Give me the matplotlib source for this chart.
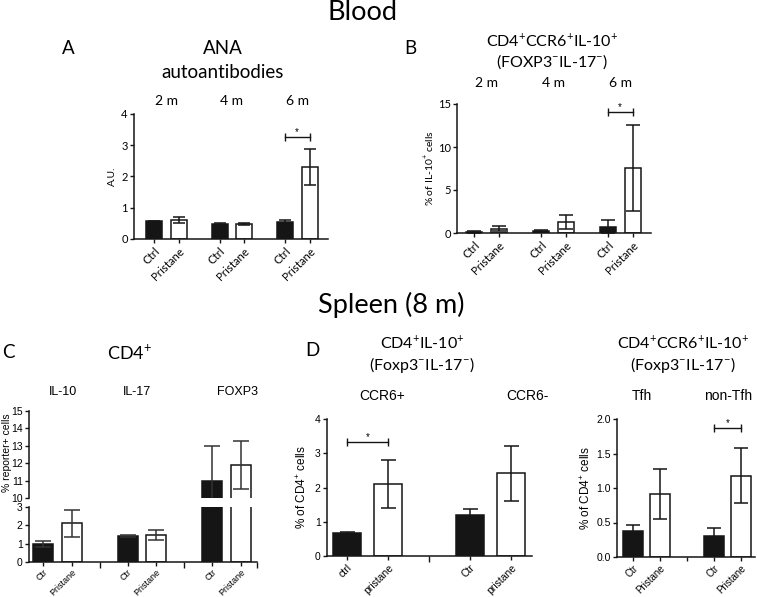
import matplotlib
matplotlib.use('Agg')
import matplotlib.pyplot as plt

W, H = 757, 597

# ---------------- data ----------------
# A: ANA autoantibodies (blood)
months = ['2 m', '4 m', '6 m']
tick_AB = ['Ctrl', 'Pristane']
ana_ctrl = [0.56, 0.48, 0.53]
ana_ctrl_err = [0.03, 0.04, 0.07]
ana_pri = [0.61, 0.48, 2.30]
ana_pri_err = [0.09, 0.04, 0.58]
sig_A = 3.26

# B: CD4+CCR6+IL-10+ (blood)
b_ctrl = [0.10, 0.25, 0.70]
b_ctrl_err = [0.10, 0.08, 0.85]
b_pri = [0.50, 1.28, 7.60]
b_pri_err = [0.27, 0.80, 5.00]
sig_B = 14.1

# C: CD4+ spleen
c_groups = ['IL-10', 'IL-17', 'FOXP3']
tick_C = ['Ctr', 'Pristane']
c_ctrl = [0.97, 1.40, 11.0]
c_ctrl_err = [0.15, 0.06, 2.0]
c_pri = [2.12, 1.48, 11.9]
c_pri_err = [0.74, 0.26, 1.4]

# D: CD4+IL-10+ spleen
d_groups = ['CCR6+', 'CCR6-']
tick_D = ['ctrl', 'pristane', 'Ctr', 'pristane']
d_ctrl = [0.67, 1.20]
d_ctrl_err = [0.03, 0.18]
d_pri = [2.09, 2.42]
d_pri_err = [0.70, 0.80]
sig_D = 3.32

# E: CD4+CCR6+IL-10+ spleen
e_groups = ['Tfh', 'non-Tfh']
tick_E = ['Ctr', 'Pristane', '', 'Ctr', 'Pristane']
e_ctrl = [0.37, 0.31]
e_ctrl_err = [0.10, 0.11]
e_pri = [0.91, 1.18]
e_pri_err = [0.36, 0.40]
sig_E = 1.87

# ---------------- styling ----------------
HEAD = ['Lato', 'DejaVu Sans']
ARIAL = ['Liberation Sans', 'DejaVu Sans']
plt.rcParams['font.family'] = ARIAL
plt.rcParams['mathtext.fontset'] = 'custom'
plt.rcParams['mathtext.rm'] = 'Lato'
BLACK = '#151515'

fig = plt.figure(figsize=(W / 100, H / 100), dpi=100)


def box(x0, yt, x1, yb):
    return [x0 / W, 1 - yb / H, (x1 - x0) / W, (yb - yt) / H]


def ftext(x, y, s, size, family=HEAD, **kw):
    kw.setdefault('ha', 'center')
    kw.setdefault('va', 'center')
    fig.text(x / W, 1 - y / H, s, fontsize=size, family=family, **kw)


def style(ax, lw=1.1):
    for s in ['top', 'right']:
        ax.spines[s].set_visible(False)
    for s in ['left', 'bottom']:
        ax.spines[s].set_linewidth(lw)
        ax.spines[s].set_color(BLACK)
    ax.tick_params(length=3, width=1, color=BLACK, pad=1.5)


def bars(ax, xs_c, xs_p, vc, ec, vp, ep, width, cap, ecol=BLACK):
    ax.bar(xs_c, vc, width=width, color=BLACK, edgecolor=BLACK, linewidth=1.1, zorder=2)
    ax.bar(xs_p, vp, width=width, color='white', edgecolor=BLACK, linewidth=1.1, zorder=2)
    ax.errorbar(xs_c, vc, yerr=ec, fmt='none', ecolor=ecol, elinewidth=1.1,
                capsize=cap, capthick=1.1, zorder=3)
    ax.errorbar(xs_p, vp, yerr=ep, fmt='none', ecolor=ecol, elinewidth=1.1,
                capsize=cap, capthick=1.1, zorder=3)


def sig(ax, x1, x2, y, ms=6):
    ax.plot([x1, x2], [y, y], color=BLACK, lw=1.0, marker='|', markersize=ms,
            mew=1.0, clip_on=False, zorder=4)
    ax.text((x1 + x2) / 2, y, '*', ha='center', va='bottom', fontsize=7,
            family=ARIAL, clip_on=False)


# ---------------- titles ----------------
ftext(362, 12, 'Blood', 19.5)
ftext(391, 305, 'Spleen (8 m)', 19.5)

# ---------------- Panel A ----------------
axA = fig.add_axes(box(134, 114, 328, 239))
style(axA)
offA, inA, gapA = 20, 24.5, 65.5
xA_c = [offA + gapA * i for i in range(3)]
xA_p = [x + inA for x in xA_c]
bars(axA, xA_c, xA_p, ana_ctrl, ana_ctrl_err, ana_pri, ana_pri_err, 16, 4.3)
axA.set_xlim(0, 194)
axA.set_ylim(0, 4)
axA.set_yticks([0, 1, 2, 3, 4])
axA.set_xticks(sorted(xA_c + xA_p))
axA.set_xticklabels(tick_AB * 3, rotation=45, ha='right', rotation_mode='anchor',
                    fontsize=8.3, family=HEAD)
for t in axA.get_yticklabels():
    t.set_fontsize(8); t.set_family(HEAD)
axA.set_ylabel('A.U.', fontsize=7.5, family=HEAD, labelpad=3)
sig(axA, xA_c[2], xA_p[2], sig_A)
ftext(68, 49, 'A', 13.5)
ftext(223, 49, 'ANA', 13.5)
ftext(223, 72, 'autoantibodies', 13.5)
for i, m in enumerate(months):
    ftext(134 + (xA_c[i] + xA_p[i]) / 2, 101, m, 10)

# ---------------- Panel B ----------------
axB = fig.add_axes(box(457, 104, 651, 233))
style(axB)
offB, inB, gapB = 17, 24.5, 67
xB_c = [offB + gapB * i for i in range(3)]
xB_p = [x + inB for x in xB_c]
bars(axB, xB_c, xB_p, b_ctrl, b_ctrl_err, b_pri, b_pri_err, 16, 5)
axB.set_xlim(0, 194)
axB.set_ylim(0, 15)
axB.set_yticks([0, 5, 10, 15])
axB.set_xticks(sorted(xB_c + xB_p))
axB.set_xticklabels(tick_AB * 3, rotation=45, ha='right', rotation_mode='anchor',
                    fontsize=8.3, family=HEAD)
for t in axB.get_yticklabels():
    t.set_fontsize(8); t.set_family(HEAD)
axB.set_ylabel('% of IL-10$^{+}$ cells', fontsize=7.5, family=HEAD, labelpad=1)
sig(axB, xB_c[2], xB_p[2], sig_B)
ftext(410, 48, 'B', 13.5)
ftext(552, 40, 'CD4$^{+}$CCR6$^{+}$IL-10$^{+}$', 11.5)
ftext(552, 62, '(FOXP3$^{-}$IL-17$^{-}$)', 11.5)
for i, m in enumerate(months):
    ftext(457 + (xB_c[i] + xB_p[i]) / 2, 83, m, 10)

# ---------------- Panel C (broken axis) ----------------
axCt = fig.add_axes(box(29, 411, 257, 498))
axCb = fig.add_axes(box(29, 507, 257, 562))
offC, inC, gapC = 14, 28.5, 84.5
xC_c = [offC + gapC * i for i in range(3)]
xC_p = [x + inC for x in xC_c]
for ax in (axCt, axCb):
    style(ax)
    bars(ax, xC_c, xC_p, c_ctrl, c_ctrl_err, c_pri, c_pri_err, 20, 5.5, ecol='#333333')
    ax.set_xlim(0, 228)
axCt.set_ylim(10, 15)
axCt.set_yticks([10, 11, 12, 13, 14, 15])
axCt.spines['bottom'].set_visible(False)
axCt.set_xticks([])
axCb.set_ylim(0, 3)
axCb.set_yticks([0, 1, 2, 3])
axCb.set_xticks(sorted(xC_c + xC_p))
axCb.set_xticklabels(tick_C * 3, rotation=45, ha='right', rotation_mode='anchor',
                     fontsize=6.5)
axCb.tick_params(axis='x', pad=1)
sepC = [(xC_p[i] + xC_c[i + 1]) / 2 for i in range(2)] + [228]
axCb.set_xticks(sepC, minor=True)
axCb.tick_params(axis='x', which='minor', length=4, width=1, color=BLACK)
for ax in (axCt, axCb):
    for t in ax.get_yticklabels():
        t.set_fontsize(7.5)
ftext(7, 453, '% reporter+ cells', 7.5, family=ARIAL, rotation=90)
ftext(8, 352, 'C', 13.5)
ftext(130, 353, 'CD4$^{+}$', 13)
for x, g in zip([63, 137, 237], c_groups):
    ftext(x, 392, g, 9, family=ARIAL)

# ---------------- Panel D ----------------
axD = fig.add_axes(box(327, 419, 532, 556))
style(axD)
offD, inD, gapD = 20, 41, 123
xD_c = [offD + gapD * i for i in range(2)]
xD_p = [x + inD for x in xD_c]
bars(axD, xD_c, xD_p, d_ctrl, d_ctrl_err, d_pri, d_pri_err, 28, 5.4)
axD.set_xlim(0, 205)
axD.set_ylim(0, 4)
axD.set_yticks([0, 1, 2, 3, 4])
axD.set_xticks(sorted(xD_c + xD_p))
axD.set_xticklabels(tick_D, rotation=45, ha='right', rotation_mode='anchor', fontsize=7.5)
axD.set_xticks([(xD_p[0] + xD_c[1]) / 2], minor=True)
axD.tick_params(axis='x', which='minor', length=4, width=1, color=BLACK)
for t in axD.get_yticklabels():
    t.set_fontsize(7.5)
axD.set_ylabel('% of CD4$^{\\mathregular{+}}$ cells', fontsize=8.5, labelpad=4)
sig(axD, xD_c[0], xD_p[0], sig_D)
ftext(312, 351, 'D', 13.5)
ftext(422, 342, 'CD4$^{+}$IL-10$^{+}$', 11.5)
ftext(422, 365, '(Foxp3$^{-}$IL-17$^{-}$)', 11.5)
for x, g in zip([382, 527], d_groups):
    ftext(x, 396, g, 10, family=ARIAL)

# ---------------- Panel E ----------------
axE = fig.add_axes(box(617, 419, 755, 557))
style(axE)
offE, stepE = 16, 27
posE = [offE + stepE * i for i in range(5)]
xE_c = [posE[0], posE[3]]
xE_p = [posE[1], posE[4]]
bars(axE, xE_c, xE_p, e_ctrl, e_ctrl_err, e_pri, e_pri_err, 20, 4.7)
axE.bar([posE[2]], [0], width=20, color='white', edgecolor='#bbbbbb', linewidth=1.0)
axE.set_xlim(0, 138)
axE.set_ylim(0, 2.0)
axE.set_yticks([0, 0.5, 1.0, 1.5, 2.0])
axE.set_yticklabels(['0.0', '0.5', '1.0', '1.5', '2.0'], fontsize=7.5)
axE.set_xticks(posE)
axE.set_xticklabels(tick_E, rotation=45, ha='right', rotation_mode='anchor', fontsize=7)
axE.set_ylabel('% of CD4$^{\\mathregular{+}}$ cells', fontsize=8.5, labelpad=2)
sig(axE, xE_c[1], xE_p[1], sig_E)
ftext(683, 342, 'CD4$^{+}$CCR6$^{+}$IL-10$^{+}$', 11.5)
ftext(683, 365, '(Foxp3$^{-}$IL-17$^{-}$)', 11.5)
for x, g in zip([642, 728], e_groups):
    ftext(x, 396, g, 10, family=ARIAL)

fig.savefig('out.png', dpi=100)
